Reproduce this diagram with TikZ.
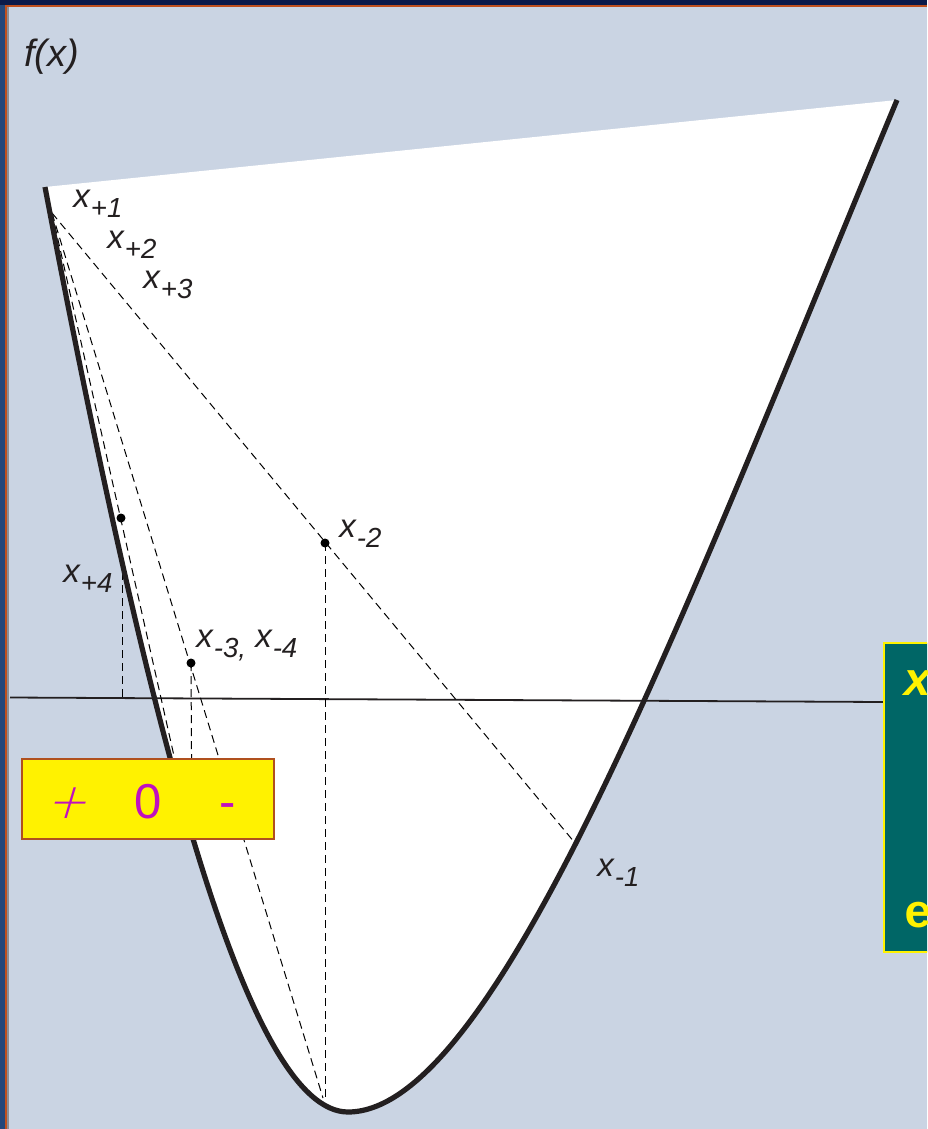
\documentclass[tikz,border=0pt]{standalone}
\usepackage{fontspec}
\setmainfont{Liberation Sans}
\newfontfamily\monof{Liberation Mono}
\newfontfamily\slantf[FakeSlant=0.3]{DejaVu Sans ExtraLight}
\definecolor{bg}{HTML}{CAD4E3}
\definecolor{navy}{HTML}{0B1A4A}
\definecolor{leftblue}{HTML}{24477A}
\definecolor{framorange}{HTML}{C0501E}
\definecolor{framegray}{HTML}{8C9098}
\definecolor{curveblack}{HTML}{231F20}
\definecolor{signmag}{HTML}{C010C0}
\definecolor{signedge}{HTML}{B0501E}
\definecolor{tealbox}{HTML}{006666}
\newcommand{\xs}[1]{x\kern0.5pt\raisebox{-5pt}{\fontsize{13.8}{14}\selectfont #1}}
\tikzset{
  dline/.style={draw=black, line width=0.5pt, dash pattern=on 4pt off 2.5pt},
  curvestyle/.style={draw=curveblack, line width=2.6pt},
  axisstyle/.style={draw=curveblack, line width=0.9pt},
  lbl/.style={anchor=base west, inner sep=0pt, font=\itshape\fontsize{16.5}{18}\selectfont, text=curveblack},
  dotstyle/.style={circle, fill=black, inner sep=0pt, minimum size=4.5pt},
  signtxt/.style={anchor=base, inner sep=0pt, text=signmag, font=\fontsize{24.5}{26}\selectfont},
  greentxt/.style={anchor=base west, inner sep=0pt, text=yellow, font=\monof\bfseries\fontsize{23.5}{25}\selectfont},
}
\begin{document}
\begin{tikzpicture}[x=0.5pt,y=-0.5pt]
\useasboundingbox (0,0) rectangle (927,1129);
\clip (0,0) rectangle (927,1129);
% background and frame
\fill[bg] (0,0) rectangle (927,1129);
\fill[navy] (0,0) rectangle (927,5);
\fill[leftblue] (0,5) rectangle (5,1129);
\fill[framorange] (5,5) rectangle (927,7);
\fill[framorange] (5,5) rectangle (7,1129);
\fill[framegray] (7,7) rectangle (9,1129);
% curve points
\coordinate (P0) at (45,187);
\coordinate (Pb) at (348,1112);
\coordinate (P3) at (897,100);
\fill[white] (P0) .. controls (149.5,737) and (248,1112) .. (Pb)
   .. controls (498,1112) and (688.5,600) .. (P3) -- cycle;
% axis
\coordinate (AxL) at (10,697.5);
\coordinate (AxR) at (884,702);
\draw[axisstyle] (AxL) -- (AxR);
% construction points
\coordinate (A) at (52,213);
\coordinate (X1) at (575,843);
\coordinate (B3) at (323,1098);
\coordinate (C5) at (192,836);
\coordinate (V2b) at (325,1099);
\coordinate (V4t) at (122,572);
\coordinate (V4b) at (122,698);
\node[dotstyle] (D2) at (325,543) {};
\node[dotstyle] (D3) at (191,663) {};
\node[dotstyle] (D4) at (121,518) {};
% dashed lines
\draw[dline] (A) -- (X1);
\draw[dline] (A) -- (B3);
\draw[dline] (A) -- (C5);
\draw[dline] (D2.center) -- (V2b);
\draw[dline] (D3.center) -- (C5);
\draw[dline] (V4t) -- (V4b);
% curve
\draw[curvestyle] (P0) .. controls (149.5,737) and (248,1112) .. (Pb)
   .. controls (498,1112) and (688.5,600) .. (P3);
% labels
\node[lbl, font=\itshape\fontsize{19}{20}\selectfont] (fx) at (24,67) {f(x)};
\node[lbl] (l1) at (73,207) {\xs{+1}};
\node[lbl] (l2) at (107,248) {\xs{+2}};
\node[lbl] (l3) at (143,288) {\xs{+3}};
\node[lbl] (l4) at (63,582) {\xs{+4}};
\node[lbl] (l34) at (196,647) {\xs{-3,} \xs{-4}};
\node[lbl] (lm2) at (339,537) {\xs{-2}};
\node[lbl] (lm1) at (597,876) {\xs{-1}};
% sign box
\node[draw=signedge, line width=0.8pt, fill=yellow, minimum width=126pt, minimum height=40pt, inner sep=0pt] (sign) at (148,799) {};
\node[signtxt, font=\slantf\fontsize{24.5}{26}\selectfont] (plus) at (66,818) {+};
\node[signtxt] (zero) at (148,818) {0};
\node[signtxt] (minus) at (228,818) {-};
% green box
\draw[draw=yellow, line width=1.2pt, fill=tealbox] (884,643) rectangle (1000,952);
\node[greentxt, font=\monof\bfseries\itshape\fontsize{23.5}{25}\selectfont] (gx) at (903,695) {x};
\node[greentxt] (ge) at (904,927) {e};
\end{tikzpicture}
\end{document}
